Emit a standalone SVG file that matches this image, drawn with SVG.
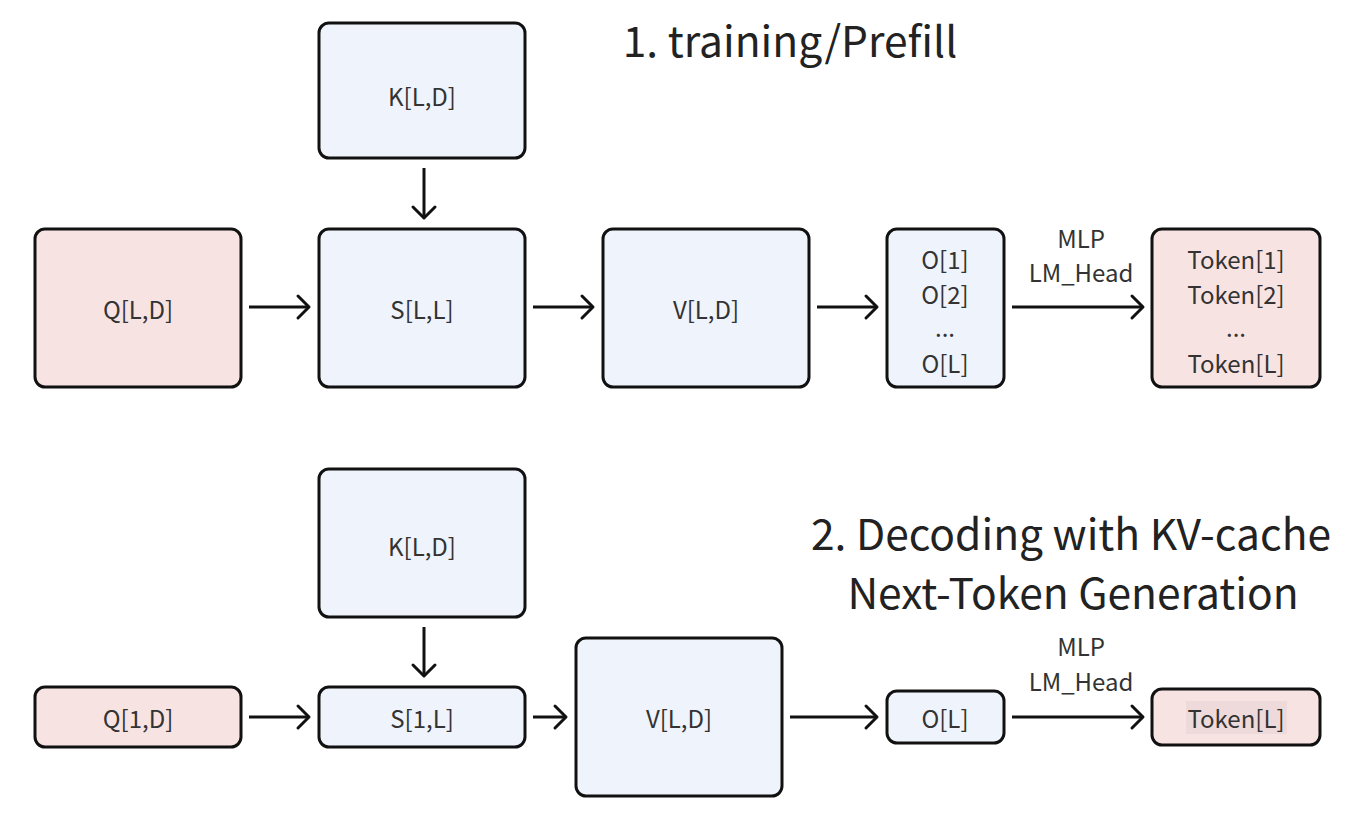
<svg xmlns="http://www.w3.org/2000/svg" width="1350" height="814" viewBox="0 0 1350 814">
<defs>
<style>
.n{stroke:#111;stroke-width:3}
.b{fill:#eff3fb}
.p{fill:#f8e3e3}
.t{font-family:"Noto Sans CJK SC","Noto Sans",sans-serif;font-size:24px;fill:#333;text-anchor:middle;dominant-baseline:central}
.h{font-family:"Noto Sans CJK SC","Noto Sans",sans-serif;font-size:42.5px;fill:#222;text-anchor:middle;dominant-baseline:central}
.c{fill:none;stroke:#111;stroke-width:3}
</style>
<marker id="ah" markerUnits="userSpaceOnUse" markerWidth="30" markerHeight="30" refX="14" refY="12" orient="auto" viewBox="0 0 30 24">
<path d="M3,1 L14,12 L3,23" fill="none" stroke="#111" stroke-width="3" stroke-linecap="round" stroke-linejoin="round"/>
</marker>
</defs>
<rect width="1350" height="814" fill="#fff"/>
<text class="h" x="790" y="38">1. training/Prefill</text>
<text class="h" x="1071" y="531">2. Decoding with KV-cache</text>
<text class="h" x="1073" y="590">Next-Token Generation</text>

<g id="q1"><rect class="n p" x="35" y="229" width="206" height="158" rx="10"/><text class="t" x="138" y="308">Q[L,D]</text></g>
<g id="k1"><rect class="n b" x="319" y="23" width="206" height="135" rx="10"/><text class="t" x="422" y="95">K[L,D]</text></g>
<g id="s1"><rect class="n b" x="319" y="229" width="206" height="158" rx="10"/><text class="t" x="422" y="308">S[L,L]</text></g>
<g id="v1"><rect class="n b" x="603" y="229" width="206" height="158" rx="10"/><text class="t" x="706" y="308">V[L,D]</text></g>
<g id="o1"><rect class="n b" x="887" y="229" width="117" height="158" rx="10"/>
<text class="t" x="945" y="258">O[1]</text><text class="t" x="945" y="293">O[2]</text><text class="t" x="945" y="326">...</text><text class="t" x="945" y="362">O[L]</text></g>
<g id="tk1"><rect class="n p" x="1152" y="229" width="168" height="158" rx="10"/>
<text class="t" x="1236" y="258">Token[1]</text><text class="t" x="1236" y="293">Token[2]</text><text class="t" x="1236" y="326">...</text><text class="t" x="1236" y="362">Token[L]</text></g>

<g id="k2"><rect class="n b" x="319" y="469" width="206" height="148" rx="10"/><text class="t" x="422" y="545">K[L,D]</text></g>
<g id="q2"><rect class="n p" x="35" y="687" width="206" height="60" rx="10"/><text class="t" x="138" y="717">Q[1,D]</text></g>
<g id="s2"><rect class="n b" x="319" y="687" width="206" height="60" rx="10"/><text class="t" x="422" y="717">S[1,L]</text></g>
<g id="v2"><rect class="n b" x="576" y="638" width="206" height="158" rx="10"/><text class="t" x="679" y="717">V[L,D]</text></g>
<g id="o2"><rect class="n b" x="887" y="691" width="117" height="52" rx="10"/><text class="t" x="945" y="717">O[L]</text></g>
<g id="tk2"><rect class="n p" x="1152" y="689" width="168" height="56" rx="10"/><rect x="1186" y="701" width="101" height="33" fill="#eedada"/><text class="t" x="1236" y="717">Token[L]</text></g>

<g id="connectors">
<path class="c" d="M424,168 V218" marker-end="url(#ah)"/>
<path class="c" d="M249,307 H309" marker-end="url(#ah)"/>
<path class="c" d="M533,307 H593" marker-end="url(#ah)"/>
<path class="c" d="M817,307 H877" marker-end="url(#ah)"/>
<path class="c" d="M1012,307 H1143" marker-end="url(#ah)"/>
<text class="t" x="1081" y="237">MLP</text>
<text class="t" x="1081" y="271">LM_Head</text>
<path class="c" d="M424,627 V676" marker-end="url(#ah)"/>
<path class="c" d="M249,717 H309" marker-end="url(#ah)"/>
<path class="c" d="M533,717 H566" marker-end="url(#ah)"/>
<path class="c" d="M790,717 H877" marker-end="url(#ah)"/>
<path class="c" d="M1012,717 H1143" marker-end="url(#ah)"/>
<text class="t" x="1081" y="645">MLP</text>
<text class="t" x="1081" y="680">LM_Head</text>
</g>
</svg>
